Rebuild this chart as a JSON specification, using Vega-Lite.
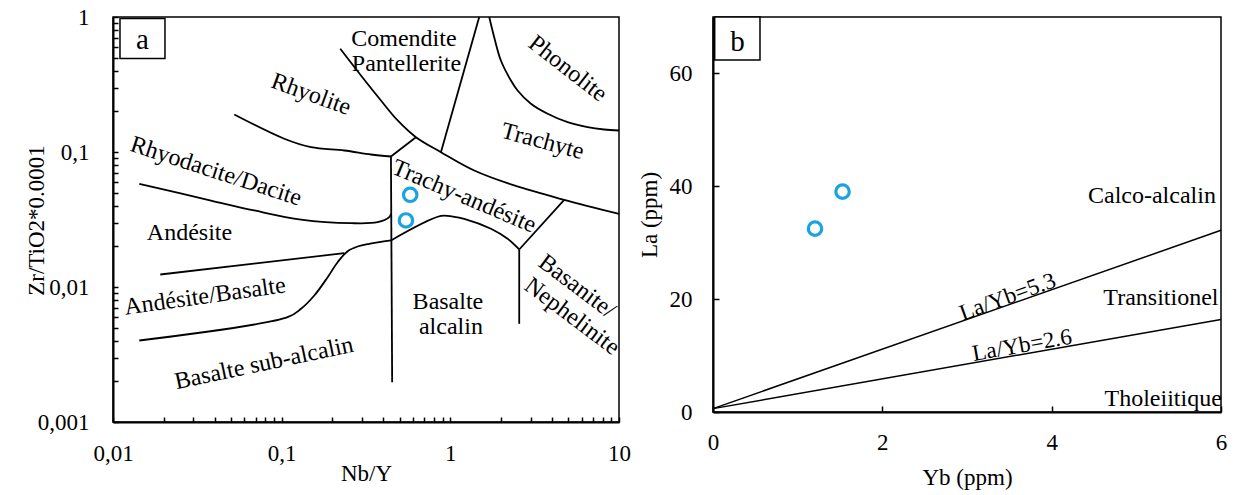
{
  "$schema": "https://vega.github.io/schema/vega-lite/v6.json",
  "background": "white",
  "padding": {"left": 24, "top": 5, "right": 3, "bottom": 5},
  "bounds": "flush",
  "spacing": 94,
  "config": {
    "font": "Liberation Serif",
    "view": {"stroke": "black", "strokeWidth": 1.5},
    "axis": {"grid": false, "domainColor": "black", "domainWidth": 2, "tickColor": "black", "tickWidth": 1.5, "labelColor": "black", "titleColor": "black", "labelFontSize": 23, "titleFontSize": 23, "titleFontWeight": "normal", "labelFont": "Liberation Serif", "titleFont": "Liberation Serif", "labelOverlap": false, "labelFlush": false}
  },
  "datasets": {
    "aLines": [
      {"seg": "L1", "ord": 1, "x": 0.05236, "y": 0.1896},
      {"seg": "L1", "ord": 3, "x": 0.1036, "y": 0.1253},
      {"seg": "L1", "ord": 4, "x": 0.1492, "y": 0.1085},
      {"seg": "L1", "ord": 5, "x": 0.235, "y": 0.1026},
      {"seg": "L1", "ord": 6, "x": 0.3384, "y": 0.0958},
      {"seg": "L1", "ord": 7, "x": 0.4445, "y": 0.0926},
      {"seg": "L2", "ord": 1, "x": 0.4445, "y": 0.0926},
      {"seg": "L2", "ord": 2, "x": 0.6254, "y": 0.1287},
      {"seg": "L3", "ord": 1, "x": 0.2226, "y": 0.5813},
      {"seg": "L3", "ord": 2, "x": 0.2952, "y": 0.3687},
      {"seg": "L3", "ord": 3, "x": 0.3879, "y": 0.2407},
      {"seg": "L3", "ord": 4, "x": 0.4872, "y": 0.1712},
      {"seg": "L3", "ord": 5, "x": 0.6254, "y": 0.1287},
      {"seg": "L3", "ord": 6, "x": 0.8795, "y": 0.0997},
      {"seg": "L3", "ord": 7, "x": 1.386, "y": 0.0729},
      {"seg": "L3", "ord": 8, "x": 2.392, "y": 0.0565},
      {"seg": "L3", "ord": 9, "x": 4.733, "y": 0.0442},
      {"seg": "L3", "ord": 10, "x": 10, "y": 0.0348},
      {"seg": "L4", "ord": 1, "x": 1.4836, "y": 1},
      {"seg": "L4", "ord": 2, "x": 0.8795, "y": 0.0997},
      {"seg": "L5", "ord": 1, "x": 1.701, "y": 1},
      {"seg": "L5", "ord": 2, "x": 1.82, "y": 0.7085},
      {"seg": "L5", "ord": 3, "x": 1.994, "y": 0.4762},
      {"seg": "L5", "ord": 4, "x": 2.287, "y": 0.3386},
      {"seg": "L5", "ord": 5, "x": 2.505, "y": 0.2855},
      {"seg": "L5", "ord": 6, "x": 3.004, "y": 0.2275},
      {"seg": "L5", "ord": 7, "x": 3.774, "y": 0.1919},
      {"seg": "L5", "ord": 8, "x": 4.958, "y": 0.1662},
      {"seg": "L5", "ord": 9, "x": 6.515, "y": 0.1527},
      {"seg": "L5", "ord": 10, "x": 8.172, "y": 0.1468},
      {"seg": "L5", "ord": 11, "x": 10, "y": 0.1443},
      {"seg": "L6", "ord": 1, "x": 0.4445, "y": 0.0926},
      {"seg": "L6", "ord": 2, "x": 0.452, "y": 0.00197},
      {"seg": "L7", "ord": 1, "x": 0.01432, "y": 0.0581},
      {"seg": "L7", "ord": 2, "x": 0.0381, "y": 0.0437},
      {"seg": "L7", "ord": 3, "x": 0.06881, "y": 0.0369},
      {"seg": "L7", "ord": 4, "x": 0.1302, "y": 0.0316},
      {"seg": "L7", "ord": 5, "x": 0.2575, "y": 0.0297},
      {"seg": "L7", "ord": 6, "x": 0.3708, "y": 0.0302},
      {"seg": "L7", "ord": 7, "x": 0.4343, "y": 0.0329},
      {"seg": "L7", "ord": 8, "x": 0.4445, "y": 0.0348},
      {"seg": "L8", "ord": 1, "x": 0.01907, "y": 0.01238},
      {"seg": "L8", "ord": 2, "x": 0.235, "y": 0.0178},
      {"seg": "L9", "ord": 1, "x": 0.01432, "y": 0.004016},
      {"seg": "L9", "ord": 2, "x": 0.1085, "y": 0.005973},
      {"seg": "L9", "ord": 3, "x": 0.1302, "y": 0.006895},
      {"seg": "L9", "ord": 4, "x": 0.1561, "y": 0.00865},
      {"seg": "L9", "ord": 5, "x": 0.1874, "y": 0.01182},
      {"seg": "L9", "ord": 6, "x": 0.2147, "y": 0.01527},
      {"seg": "L9", "ord": 7, "x": 0.2461, "y": 0.01842},
      {"seg": "L9", "ord": 8, "x": 0.2821, "y": 0.01995},
      {"seg": "L9", "ord": 9, "x": 0.3306, "y": 0.02089},
      {"seg": "L9", "ord": 10, "x": 0.4445, "y": 0.02211},
      {"seg": "L10", "ord": 1, "x": 0.4445, "y": 0.02211},
      {"seg": "L10", "ord": 2, "x": 0.8795, "y": 0.0336},
      {"seg": "L10", "ord": 3, "x": 1.036, "y": 0.0332},
      {"seg": "L10", "ord": 4, "x": 1.209, "y": 0.032},
      {"seg": "L10", "ord": 5, "x": 1.741, "y": 0.02699},
      {"seg": "L10", "ord": 6, "x": 2.186, "y": 0.02275},
      {"seg": "L10", "ord": 7, "x": 2.561, "y": 0.01896},
      {"seg": "L11", "ord": 1, "x": 2.561, "y": 0.01896},
      {"seg": "L11", "ord": 2, "x": 2.561, "y": 0.005337},
      {"seg": "L12", "ord": 1, "x": 2.561, "y": 0.01896},
      {"seg": "L12", "ord": 2, "x": 4.733, "y": 0.0442}
    ],
    "aPoints": [
      {"x": 0.5784, "y": 0.0482},
      {"x": 0.5455, "y": 0.0311}
    ],
    "aLabels": [
      {"label": "Comendite", "x": 0.5309, "y": 0.693, "angle": 0},
      {"label": "Pantellerite", "x": 0.5493, "y": 0.4522, "angle": 0},
      {"label": "Phonolite", "x": 4.958, "y": 0.4133, "angle": 38},
      {"label": "Rhyolite", "x": 0.1492, "y": 0.2667, "angle": 20},
      {"label": "Trachyte", "x": 3.525, "y": 0.1196, "angle": 15},
      {"label": "Rhyodacite/Dacite", "x": 0.04079, "y": 0.0717, "angle": 18},
      {"label": "Trachy-andésite", "x": 1.204, "y": 0.0468, "angle": 23},
      {"label": "Andésite", "x": 0.02841, "y": 0.02533, "angle": 0},
      {"label": "Andésite/Basalte", "x": 0.0351, "y": 0.0085, "angle": -8},
      {"label": "Basalte sub-alcalin", "x": 0.07855, "y": 0.002712, "angle": -12},
      {"label": "Basalte", "x": 0.9678, "y": 0.007678, "angle": 0},
      {"label": "alcalin", "x": 1.008, "y": 0.005012, "angle": 0},
      {"label": "Basanite/", "x": 5.628, "y": 0.01009, "angle": 37},
      {"label": "Nephelinite", "x": 5.258, "y": 0.006045, "angle": 37}
    ],
    "aBox": [{"x": 0.011, "x2": 0.02033, "y": 0.4928, "y2": 0.9747, "label": "a", "tx": 0.01496, "ty": 0.6698}],
    "bLines": [
      {"seg": "r53", "ord": 1, "x": 0, "y": 0.6},
      {"seg": "r53", "ord": 2, "x": 6, "y": 32.2},
      {"seg": "r26", "ord": 1, "x": 0, "y": 0.6},
      {"seg": "r26", "ord": 2, "x": 6, "y": 16.4}
    ],
    "bPoints": [
      {"x": 1.205, "y": 32.5},
      {"x": 1.53, "y": 39.05}
    ],
    "bFields": [
      {"label": "Calco-alcalin", "x": 5.94, "y": 37.0},
      {"label": "Transitionel", "x": 5.97, "y": 19.0},
      {"label": "Tholeiitique", "x": 6.01, "y": 1.1}
    ],
    "bRatios": [
      {"label": "La/Yb=5.3", "x": 3.48, "y": 20.4, "angle": -20},
      {"label": "La/Yb=2.6", "x": 3.65, "y": 11.8, "angle": -10}
    ],
    "bBox": [{"x": 0.02, "x2": 0.555, "y": 62.4, "y2": 70, "label": "b", "tx": 0.29, "ty": 65.5}]
  },
  "hconcat": [
    {
      "width": 506,
      "height": 405,
      "layer": [
        {
          "data": {"name": "aLines"},
          "mark": {"type": "line", "color": "black", "strokeWidth": 1.8, "interpolate": "catmull-rom"},
          "encoding": {
            "x": {"field": "x", "type": "quantitative",
              "scale": {"type": "log", "domain": [0.01, 10], "nice": false},
              "axis": {"title": "Nb/Y", "tickSize": -5, "labelPadding": 25, "titlePadding": -3,
                "values": [0.01, 0.02, 0.03, 0.04, 0.05, 0.06, 0.07, 0.08, 0.09, 0.1, 0.2, 0.3, 0.4, 0.5, 0.6, 0.7, 0.8, 0.9, 1, 2, 3, 4, 5, 6, 7, 8, 9, 10],
                "labelExpr": "datum.value == 0.01 ? '0,01' : datum.value == 0.1 ? '0,1' : datum.value == 1 ? '1' : datum.value == 10 ? '10' : ''"}},
            "y": {"field": "y", "type": "quantitative",
              "scale": {"type": "log", "domain": [0.001, 1], "nice": false},
              "axis": {"title": "Zr/TiO2*0.0001", "tickSize": -5, "labelPadding": 29, "titleX": -65, "titleY": 203,
                "values": [0.001, 0.002, 0.003, 0.004, 0.005, 0.006, 0.007, 0.008, 0.009, 0.01, 0.02, 0.03, 0.04, 0.05, 0.06, 0.07, 0.08, 0.09, 0.1, 0.2, 0.3, 0.4, 0.5, 0.6, 0.7, 0.8, 0.9, 1],
                "labelExpr": "datum.value == 0.001 ? '0,001' : datum.value == 0.01 ? '0,01' : datum.value == 0.1 ? '0,1' : datum.value == 1 ? '1' : ''"}},
            "detail": {"field": "seg"},
            "order": {"field": "ord", "type": "quantitative"}
          }
        },
        {
          "data": {"name": "aLabels"},
          "mark": {"type": "text", "fontSize": 24, "font": "Liberation Serif", "align": "center", "baseline": "middle", "color": "black"},
          "encoding": {
            "x": {"field": "x", "type": "quantitative"},
            "y": {"field": "y", "type": "quantitative"},
            "text": {"field": "label"},
            "angle": {"field": "angle", "type": "quantitative", "scale": null}
          }
        },
        {
          "data": {"name": "aBox"},
          "mark": {"type": "rect", "fill": "white", "stroke": "black", "strokeWidth": 1.5},
          "encoding": {
            "x": {"field": "x", "type": "quantitative"},
            "x2": {"field": "x2"},
            "y": {"field": "y", "type": "quantitative"},
            "y2": {"field": "y2"}
          }
        },
        {
          "data": {"name": "aBox"},
          "mark": {"type": "text", "fontSize": 29, "font": "Liberation Serif", "align": "center", "baseline": "middle", "color": "black"},
          "encoding": {
            "x": {"field": "tx", "type": "quantitative"},
            "y": {"field": "ty", "type": "quantitative"},
            "text": {"field": "label"}
          }
        },
        {
          "data": {"name": "aPoints"},
          "mark": {"type": "point", "shape": "circle", "filled": false, "stroke": "#1BA3E0", "strokeWidth": 3.2, "size": 180, "opacity": 1},
          "encoding": {
            "x": {"field": "x", "type": "quantitative"},
            "y": {"field": "y", "type": "quantitative"}
          }
        }
      ]
    },
    {
      "width": 508,
      "height": 395,
      "layer": [
        {
          "data": {"name": "bLines"},
          "mark": {"type": "line", "color": "black", "strokeWidth": 1.5},
          "encoding": {
            "x": {"field": "x", "type": "quantitative",
              "scale": {"domain": [0, 6], "nice": false, "zero": false},
              "axis": {"title": "Yb (ppm)", "values": [0, 2, 4, 6], "format": "d", "tickSize": -6, "labelPadding": 25, "titlePadding": 12}},
            "y": {"field": "y", "type": "quantitative",
              "scale": {"domain": [0, 70], "nice": false},
              "axis": {"title": "La (ppm)", "values": [0, 20, 40, 60], "format": "d", "tickSize": -6, "labelPadding": 27, "titlePadding": 8}},
            "detail": {"field": "seg"},
            "order": {"field": "ord", "type": "quantitative"}
          }
        },
        {
          "data": {"name": "bFields"},
          "mark": {"type": "text", "fontSize": 24, "font": "Liberation Serif", "align": "right", "baseline": "alphabetic", "color": "black"},
          "encoding": {
            "x": {"field": "x", "type": "quantitative"},
            "y": {"field": "y", "type": "quantitative"},
            "text": {"field": "label"}
          }
        },
        {
          "data": {"name": "bRatios"},
          "mark": {"type": "text", "fontSize": 23, "font": "Liberation Serif", "align": "center", "baseline": "middle", "color": "black"},
          "encoding": {
            "x": {"field": "x", "type": "quantitative"},
            "y": {"field": "y", "type": "quantitative"},
            "text": {"field": "label"},
            "angle": {"field": "angle", "type": "quantitative", "scale": null}
          }
        },
        {
          "data": {"name": "bBox"},
          "mark": {"type": "rect", "fill": "white", "stroke": "black", "strokeWidth": 1.5},
          "encoding": {
            "x": {"field": "x", "type": "quantitative"},
            "x2": {"field": "x2"},
            "y": {"field": "y", "type": "quantitative"},
            "y2": {"field": "y2"}
          }
        },
        {
          "data": {"name": "bBox"},
          "mark": {"type": "text", "fontSize": 29, "font": "Liberation Serif", "align": "center", "baseline": "middle", "color": "black"},
          "encoding": {
            "x": {"field": "tx", "type": "quantitative"},
            "y": {"field": "ty", "type": "quantitative"},
            "text": {"field": "label"}
          }
        },
        {
          "data": {"name": "bPoints"},
          "mark": {"type": "point", "shape": "circle", "filled": false, "stroke": "#1BA3E0", "strokeWidth": 3.2, "size": 180, "opacity": 1},
          "encoding": {
            "x": {"field": "x", "type": "quantitative"},
            "y": {"field": "y", "type": "quantitative"}
          }
        }
      ]
    }
  ]
}
